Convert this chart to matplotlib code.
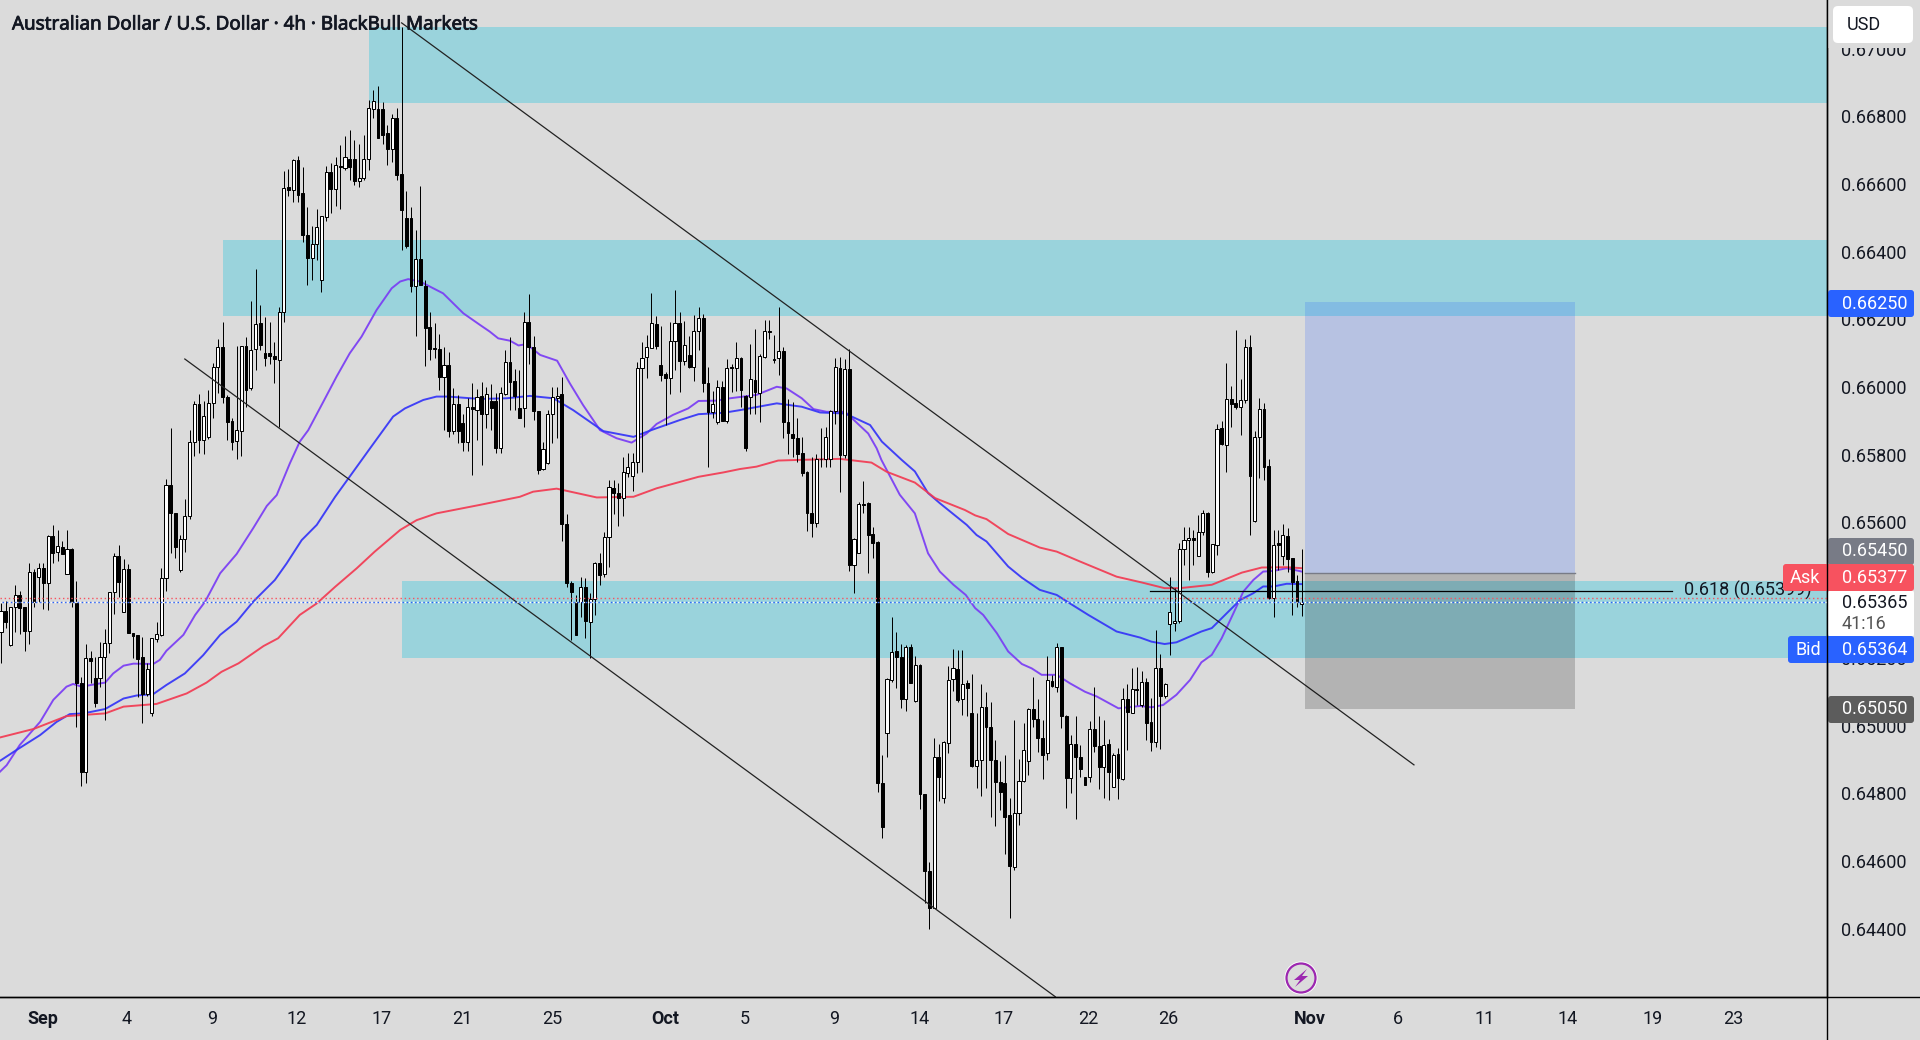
import numpy as np
import matplotlib
matplotlib.use('Agg')
import matplotlib.pyplot as plt
import matplotlib.patheffects as pe
from matplotlib.patches import Rectangle, FancyBboxPatch, Circle, Polygon

# AUDUSD 4h candles, prices in points (1e-5)
opens = [
    65277,65339,65238,65349,65385,65349,65280,65453,65440,65465,
    65420,65559,65514,65527,65447,65521,65363,65127,64862,65199,
    65140,65141,65202,65243,65396,65501,65337,65462,65274,65267,
    65202,65093,65038,65257,65268,65435,65710,65627,65460,65552,
    65618,65837,65949,65845,65854,65952,66058,66118,65972,65900,
    65842,65871,66122,65997,66112,66189,66100,66100,66092,66080,
    66221,66592,66581,66671,66573,66449,66381,66422,66317,66504,
    66635,66586,66653,66647,66674,66674,66609,66619,66673,66822,
    66821,66821,66750,66702,66795,66630,66499,66499,66300,66378,
    66299,66177,66115,66112,66031,66065,65871,65949,65893,65839,
    65940,65932,65974,65922,65959,65959,65819,65980,66073,66018,
    65937,65937,66191,66119,65928,65757,65775,65922,65969,65980,
    65597,65420,65366,65366,65408,65307,65373,65479,65447,65556,
    65701,65686,65671,65747,65737,65778,66055,66090,66115,66185,
    66064,66038,66026,66135,66188,66078,66096,66060,66165,66203,
    66013,65927,65898,65999,65901,66058,66057,66085,65974,65972,
    66021,65984,66090,66167,66082,66085,66107,65898,65861,65849,
    65806,65750,65627,65599,65789,65788,65787,65930,66055,65799,
    66052,65474,65511,65656,65659,65565,65541,64829,64979,65135,
    65221,65202,65080,65231,65074,65179,64797,64571,64460,64908,
    64785,64950,65137,65166,65078,65125,65036,64882,64897,65056,
    64995,64897,64832,64830,64736,64583,64741,64837,64894,65049,
    65019,64963,64918,65132,65115,65231,65027,64844,64945,64906,
    64847,64847,64989,64940,64877,64945,64820,64915,64842,65078,
    65038,65108,65061,65128,65010,64951,65169,65086,65299,65302,
    65310,65523,65548,65553,65502,65571,65627,65455,65535,65878,
    65828,65966,65952,65940,65963,66117,65603,65853,65934,65767,
    65377,65538,65502,65560,65494,65427,65358,
]
highs = [
    65361,65367,65349,65414,65398,65351,65479,65463,65479,65479,
    65563,65592,65578,65545,65578,65526,65426,65144,65241,65221,
    65204,65246,65285,65396,65509,65535,65492,65477,65274,65269,
    65261,65184,65258,65305,65467,65728,65878,65627,65563,65669,
    65873,65960,65979,65960,65992,66070,66141,66191,65977,65910,
    66122,66122,66149,66255,66348,66243,66206,66191,66132,66236,
    66639,66645,66673,66683,66650,66531,66476,66525,66506,66653,
    66661,66679,66716,66742,66760,66730,66718,66745,66849,66878,
    66890,66842,66773,66806,66824,67065,66578,66531,66464,66594,
    66317,66221,66189,66156,66117,66105,65998,65977,65922,65967,
    66011,65993,66016,66000,66009,65982,66000,66110,66147,66053,
    66050,66223,66275,66151,65928,65839,65932,65999,65999,66031,
    65624,65426,65386,65438,65435,65391,65484,65509,65573,65725,
    65725,65716,65794,65804,65804,66075,66134,66154,66277,66210,
    66180,66046,66193,66287,66221,66196,66151,66213,66236,66216,
    66060,65989,66021,66019,66082,66067,66134,66088,65977,66127,
    66171,66098,66198,66198,66154,66236,66117,65964,65957,65910,
    65853,65753,65794,65802,65878,65881,65932,66085,66090,66082,
    66114,65553,65661,65722,65661,65586,65546,64913,65140,65320,
    65276,65241,65238,65241,65206,65182,64797,64596,64963,64946,
    64955,65176,65226,65224,65222,65135,65153,65036,65123,65100,
    65069,64958,64896,64913,64785,65017,64901,65007,65051,65143,
    65079,65017,65206,65150,65245,65233,65032,64972,65029,64943,
    64849,65015,65113,65027,65017,64960,64918,64933,65112,65123,
    65169,65172,65162,65140,65081,65283,65211,65125,65440,65406,
    65539,65586,65588,65578,65622,65637,65632,65537,65890,65899,
    66070,66003,66168,66024,66141,66154,65871,65969,65952,65789,
    65577,65577,65595,65585,65494,65444,65521,
]
lows = [
    65186,65289,65236,65277,65272,65221,65241,65351,65366,65344,
    65341,65481,65487,65508,65447,65351,64997,64822,64831,65125,
    65056,65115,65018,65213,65330,65381,65335,65274,65199,65085,
    65007,65087,65029,65248,65265,65399,65509,65496,65455,65514,
    65609,65795,65806,65802,65847,65910,65982,65954,65844,65814,
    65788,65797,65942,65990,66051,66110,66063,66067,66011,65883,
    66191,66565,66548,66548,66430,66302,66317,66376,66282,66492,
    66514,66535,66526,66642,66612,66597,66592,66612,66640,66794,
    66737,66718,66656,66666,66612,66405,66410,66282,66152,66302,
    66063,66080,66085,65992,65873,65853,65860,65834,65811,65811,
    65741,65844,65770,65878,65873,65806,65806,65977,65932,65932,
    65910,65883,66068,65903,65742,65755,65772,65836,65849,65546,
    65410,65253,65269,65322,65258,65201,65326,65415,65438,65469,
    65624,65590,65619,65735,65694,65745,65748,66028,66115,66112,
    66019,65888,65980,66050,65986,66065,66057,66018,66110,65986,
    65765,65908,65891,65901,65893,65986,65988,65940,65811,65921,
    65922,65898,66085,66142,66072,66036,65851,65802,65794,65780,
    65737,65576,65558,65588,65765,65763,65765,65891,65691,65790,
    65457,65393,65509,65629,65450,65494,64803,64669,64908,65130,
    65112,65053,65044,65127,65071,64754,64475,64398,64460,64778,
    64770,64920,65103,65071,65031,65027,64879,64815,64793,64815,
    64729,64704,64751,64620,64431,64573,64706,64834,64854,64995,
    64923,64841,64897,65113,65100,64994,64758,64802,64723,64849,
    64824,64834,64923,64812,64785,64780,64818,64782,64839,64928,
    65036,65061,65054,64958,64926,64938,64932,65081,65209,65278,
    65302,65475,65430,65475,65502,65562,65438,65450,65503,65829,
    65750,65883,65936,65858,65954,65563,65602,65732,65725,65375,
    65321,65459,65474,65454,65326,65351,65323,
]
closes = [
    65339,65307,65349,65385,65348,65280,65453,65366,65467,65422,
    65559,65511,65531,65508,65521,65366,65127,64862,65199,65192,
    65068,65204,65243,65396,65501,65423,65462,65274,65266,65198,
    65093,65166,65258,65270,65435,65710,65627,65529,65550,65618,
    65837,65949,65845,65914,65952,66059,66118,65972,65898,65839,
    65873,66122,65992,66110,66187,66123,66087,66093,66082,66221,
    66587,66583,66671,66568,66448,66380,66422,66472,66506,66635,
    66585,66655,66649,66681,66651,66610,66619,66673,66824,66845,
    66737,66746,66702,66794,66628,66523,66418,66300,66378,66302,
    66176,66112,66112,66031,66065,65871,65949,65871,65839,65940,
    65934,65970,65921,65979,65938,65821,65982,66073,66016,65974,
    65910,66191,66119,65930,65755,65816,65922,65970,65975,65597,
    65420,65396,65269,65408,65310,65373,65479,65445,65556,65704,
    65686,65671,65748,65765,65778,66055,66087,66117,66188,66122,
    66037,66026,66135,66188,66078,66123,66060,66165,66203,66013,
    65927,65949,66001,65901,66057,66056,66085,65991,65821,66023,
    65985,66092,66165,66164,66080,66107,65898,65863,65849,65801,
    65747,65629,65599,65787,65787,65853,65930,66058,65799,66052,
    65474,65550,65654,65652,65563,65540,64829,64699,65138,65217,
    65202,65080,65231,65127,65178,64797,64571,64460,64908,64847,
    64951,65135,65169,65076,65122,65110,64881,64898,65056,64995,
    64897,64832,64805,64731,64585,64741,64837,64928,65049,65019,
    64963,64913,65135,65117,65231,65027,64844,64945,64906,64871,
    64824,64989,64941,64877,64943,64862,64913,64844,65078,65039,
    65107,65106,65130,65009,64951,65169,65086,65123,65337,65310,
    65522,65549,65553,65547,65571,65627,65455,65536,65875,65833,
    65966,65950,65942,65963,66117,65738,65853,65934,65765,65377,
    65535,65533,65562,65493,65425,65365,65365,
]

# moving averages, (bar, points)
ma_fast_bars = [
    -0.2,1.2,4.0,8.3,11.1,13.9,15.3,17.1,20.3,22.1,23.8,26.0,28.1,32.3,33.7,35.1,38.7,41.2,43.3,46.5,
    50.0,53.5,56.4,58.5,61.3,63.4,65.2,68.4,71.2,74.0,76.5,79.7,82.9,84.7,86.4,88.9,93.8,98.1,101.6,
    103.7,105.5,108,109.8,111.5,114.4,118,120.7,123.5,127.1,130.6,133.8,137,139.1,142.6,145.8,148,151.8,
    154.7,160.3,164.6,166.7,169.9,172.4,175.2,179.1,184,185.8,186.8,190.7,193.9,196.7,199.2,202.1,204.7,
    206.7,208.4,211.3,213.7,216.6,218.7,220.8,224,226.8,230,232.5,237.1,241.7,244.1,246.6,249.4,252.3,
    254.7,256.9,259,261.5,263.6,265.7,267.8,270,272.8,276,
]
ma_fast_vals = [
    64864,64883,64943,65011,65076,65115,65123,65115,65123,65127,65154,65177,65183,65182,65194,65221,65268,65327,65366,65450,
    65507,65583,65649,65681,65775,65839,65873,65957,66031,66100,66149,66228,66292,66312,66319,66312,66277,66218,66184,
    66164,66144,66137,66123,66127,66095,66078,66011,65947,65873,65849,65836,65863,65891,65918,65937,65959,65960,
    65967,65977,66001,65996,65967,65935,65927,65927,65863,65819,65785,65682,65627,65509,65455,65416,65386,
    65347,65327,65273,65219,65182,65169,65150,65150,65125,65100,65086,65051,65058,65054,65061,65091,65135,
    65187,65209,65258,65332,65396,65430,65455,65457,65465,65455,
]
ma_mid_bars = [
    -0.2,3.3,8.3,11.8,14.6,17.5,22.1,26,28.8,32.3,35.1,39,42.9,46.5,50,53.5,58.1,60.6,63.8,67,70.9,73.7,
    78.3,83.2,85.7,89.6,92.4,94.9,101.6,107.3,112.2,117.2,121.4,127.8,134.2,138.4,144.1,148,153.3,156.8,
    164.6,169.9,173.8,179.1,184.4,186.9,191.1,193.9,196.7,199.2,204.9,207,209.1,213.7,216.6,220.4,224,
    226.8,230.7,236.7,241.7,244.1,246.9,249.4,254.7,256.9,259,262.9,265.7,267.8,270,272.8,276,
]
ma_mid_vals = [
    64896,64928,64972,65011,65034,65036,65049,65080,65089,65093,65120,65154,65208,65268,65307,65366,65430,65479,65548,65593,65676,65730,
    65819,65913,65937,65962,65972,65972,65965,65967,65974,65967,65932,65870,65853,65875,65903,65920,65924,65932,
    65952,65942,65925,65922,65888,65839,65785,65751,65687,65657,65593,65563,65544,65470,65437,65401,65386,
    65361,65327,65278,65260,65248,65241,65246,65278,65288,65317,65371,65391,65411,65411,65419,65418,
]
ma_slow_bars = [
    -0.2,6.9,13.9,22.1,26,33,39.4,43.6,46.8,50.4,55.7,58.8,63.4,67,70.9,75.5,79.3,84.7,88.2,92.4,101.6,
    110.1,112.9,117.9,126.4,134.2,139.1,148,153.3,156.8,160.3,164.9,169.5,178,184.7,187.9,193.9,198.2,
    204.5,206.7,209.1,213.7,220.4,224,228.9,236.7,242,246.9,250.1,256.9,263.3,267.5,272.8,276,
]
ma_slow_vals = [
    64965,64990,65028,65036,65056,65064,65095,65127,65159,65184,65235,65258,65327,65361,65410,65465,65514,65578,65607,65627,65652,
    65676,65691,65700,65674,65676,65701,65735,65748,65758,65765,65783,65785,65788,65777,65750,65718,65672,
    65637,65621,65610,65566,65526,65514,65485,65440,65423,65406,65406,65416,65452,65467,65468,65465,
]

# supply/demand zones: left bar, low, high
zone_left = [78.1, 47.1, 85.1]
zone_low = [0.66840, 0.66211, 0.65200]
zone_high = [0.67064, 0.66435, 0.65428]

# trend channel
upper_bars = [85, 299.8]
upper_prices = [0.67076, 0.64884]
lower_bars = [39, 223.7]
lower_prices = [0.66083, 0.64199]

# long position tool
position_bars = [276.7, 334]
take_profit = 0.66250
entry = 0.65450
stop = 0.65050
fib_bars = [243.8, 354.5]
fib_price = 0.65399
ask_price = 0.65377
bid_price = 0.65364

price_ticks = [0.644, 0.646, 0.648, 0.650, 0.652, 0.654, 0.656, 0.658, 0.660, 0.662, 0.664, 0.666, 0.668, 0.670]
date_ticks = [8.9, 26.7, 44.8, 62.8, 80.8, 97.8, 116.9, 140.9, 157.9, 176.8, 195, 212.8, 230.6, 247.6,
              277.7, 296.4, 314.7, 332.5, 350.5, 367.5]
date_labels = ['Sep', '4', '9', '12', '17', '21', '25', 'Oct', '5', '9', '14', '17', '22', '26',
               'Nov', '6', '11', '14', '19', '23']

BG = '#DBDBDB'
TEAL = '#9AD3DC'
FONT = 'Roboto'
plt.rcParams['font.family'] = [FONT, 'DejaVu Sans']

W, H = 1920, 1040
PANE_W, PANE_H = 1827, 997
BAR_PX = 4.713

fig = plt.figure(figsize=(W / 100, H / 100), dpi=100, facecolor=BG)
ax = fig.add_axes([0, (H - PANE_H) / H, PANE_W / W, PANE_H / H], facecolor=BG)
ax.set_xlim(-1 / BAR_PX, (PANE_W - 1) / BAR_PX)
ax.set_ylim(0.641982, 0.671436)
xmax = ax.get_xlim()[1]

for left, low, high in zip(zone_left, zone_low, zone_high):
    ax.add_patch(Rectangle((left, low), xmax - left, high - low, fc=TEAL, ec='none', zorder=1))

o = np.array(opens) / 1e5
h = np.array(highs) / 1e5
l = np.array(lows) / 1e5
c = np.array(closes) / 1e5
x = np.arange(len(o))

# indicators sit under the candles
ax.plot(ma_fast_bars, np.array(ma_fast_vals) / 1e5, color='#7A3CF5', lw=1.4, alpha=0.92, zorder=2)
ax.plot(ma_mid_bars, np.array(ma_mid_vals) / 1e5, color='#3434F8', lw=1.4, alpha=0.92, zorder=2)
ax.plot(ma_slow_bars, np.array(ma_slow_vals) / 1e5, color='#F23A52', lw=1.4, alpha=0.92, zorder=2)

ax.vlines(x, l, h, color='black', lw=0.72, zorder=3)
up = c >= o
ax.bar(x[up], (c - o)[up], bottom=o[up], width=0.66, fc='white', ec='black', lw=0.72, zorder=4)
ax.bar(x[~up], (c - o)[~up], bottom=o[~up], width=0.6, fc='black', ec='black', lw=0.72, zorder=4)

ax.plot(upper_bars, upper_prices, color='#222222', lw=0.9, zorder=5)
ax.plot(lower_bars, lower_prices, color='#222222', lw=0.9, zorder=5)

# long position box
ax.add_patch(Rectangle((position_bars[0], entry), position_bars[1] - position_bars[0], take_profit - entry,
                       fc=(41 / 255, 98 / 255, 1, 0.2), ec='none', zorder=5))
ax.add_patch(Rectangle((position_bars[0], stop), position_bars[1] - position_bars[0], entry - stop,
                       fc=(0, 0, 0, 0.18), ec='none', zorder=5))
ax.plot(position_bars, [entry, entry], color='#787B86', lw=1, zorder=5)

# fib level
ax.plot(fib_bars, [fib_price, fib_price], color='black', lw=0.9, zorder=6)
ax.text(fib_bars[1] + 2.6, fib_price, '0.618 (0.65399)', color='#131722', fontsize=13, va='center', zorder=6)

# bid/ask price lines
ax.axhline(ask_price, color='#F7525F', lw=1, ls=(0, (1, 2)), zorder=7)
ax.axhline(bid_price, color='white', lw=1, ls=(0, (1, 2)), zorder=7)
ax.axhline(bid_price, color='#2962FF', lw=1, ls=(1.5, (1, 2)), zorder=7)

for side in ['top', 'left']:
    ax.spines[side].set_visible(False)
for side in ['right', 'bottom']:
    ax.spines[side].set_color('black')
    ax.spines[side].set_linewidth(1)

ax.yaxis.tick_right()
ax.set_yticks(price_ticks)
ax.set_yticklabels([f'{p:.5f}' for p in price_ticks])
ax.tick_params(axis='y', length=0, pad=10, labelsize=13, labelcolor='#131722')
ax.set_xticks(date_ticks)
ax.set_xticklabels(date_labels)
ax.tick_params(axis='x', length=0, pad=9.4, labelsize=13, labelcolor='#131722')
for lab in ax.get_xticklabels():
    if lab.get_text() in ('Sep', 'Oct', 'Nov'):
        lab.set_fontweight('bold')

# overlay in pixel coordinates for the title, price badges and buttons
top = fig.add_axes([0, 0, 1, 1], facecolor='none')
top.set_xlim(0, W)
top.set_ylim(H, 0)
top.axis('off')
top.set_zorder(10)

title = top.text(12, 24.5, 'Australian Dollar / U.S. Dollar · 4h · BlackBull Markets', family='Noto Sans',
                 fontsize=13.55, color='#131722', va='center', ha='left')
title.set_path_effects([pe.withStroke(linewidth=0.55, foreground='#131722')])


def badge(x0, x1, y0, y1, color, z=2):
    top.add_patch(FancyBboxPatch((x0, y0), x1 - x0, y1 - y0, boxstyle='round,pad=0,rounding_size=3',
                                 fc=color, ec='none', zorder=z))


badge(1828, 1914, 290, 317, '#2962FF')
top.text(1842, 304, '0.66250', color='white', fontsize=13, va='center')
badge(1828, 1914, 538, 565, '#787B86')
top.text(1842, 551.5, '0.65450', color='white', fontsize=13, va='center')
badge(1828, 1914, 590, 637, 'white')
top.text(1842, 603, '0.65365', color='#131722', fontsize=13, va='center')
top.text(1842, 624, '41:16', color='#555555', fontsize=13, va='center')
badge(1783, 1914, 564, 591, '#F7525F', z=3)
top.text(1805, 578, 'Ask', color='white', fontsize=13, va='center', ha='center', zorder=4)
top.text(1842, 578, '0.65377', color='white', fontsize=13, va='center', zorder=4)
badge(1788, 1914, 636, 663, '#2962FF', z=3)
top.text(1808, 650, 'Bid', color='white', fontsize=13, va='center', ha='center', zorder=4)
top.text(1842, 650, '0.65364', color='white', fontsize=13, va='center', zorder=4)
badge(1828, 1914, 696, 723, '#5C5C5C')
top.text(1842, 709.5, '0.65050', color='white', fontsize=13, va='center')
top.plot([1827, 1827], [0, 1040], color='black', lw=1, zorder=5)
top.plot([0, 1920], [997, 997], color='black', lw=1, zorder=5)

# currency button, the strip behind it hides the top of the scale
top.add_patch(Rectangle((1828, 0), 92, 48, fc=BG, ec='none', zorder=1))
top.add_patch(FancyBboxPatch((1833, 6), 80, 37, boxstyle='round,pad=0,rounding_size=5', fc='white', ec='none', zorder=2))
top.text(1847, 24.5, 'USD', color='#131722', fontsize=13, va='center', zorder=3)

# flash icon
top.add_patch(Circle((1301, 978), 16.5, fc='white', ec='none', zorder=3))
top.add_patch(Circle((1301, 978), 14.5, fc=BG, ec='#9C27B0', lw=1.6, zorder=4))
bolt_x = np.array([6, -7, -1, -6, 7, 1]) + 1301
bolt_y = np.array([-9, 2, 2, 9, -2, -2]) + 978
top.add_patch(Polygon(np.column_stack([bolt_x, bolt_y]), fc='#9C27B0', ec='none', zorder=5))

fig.savefig('out.png', dpi=100, facecolor=BG)
